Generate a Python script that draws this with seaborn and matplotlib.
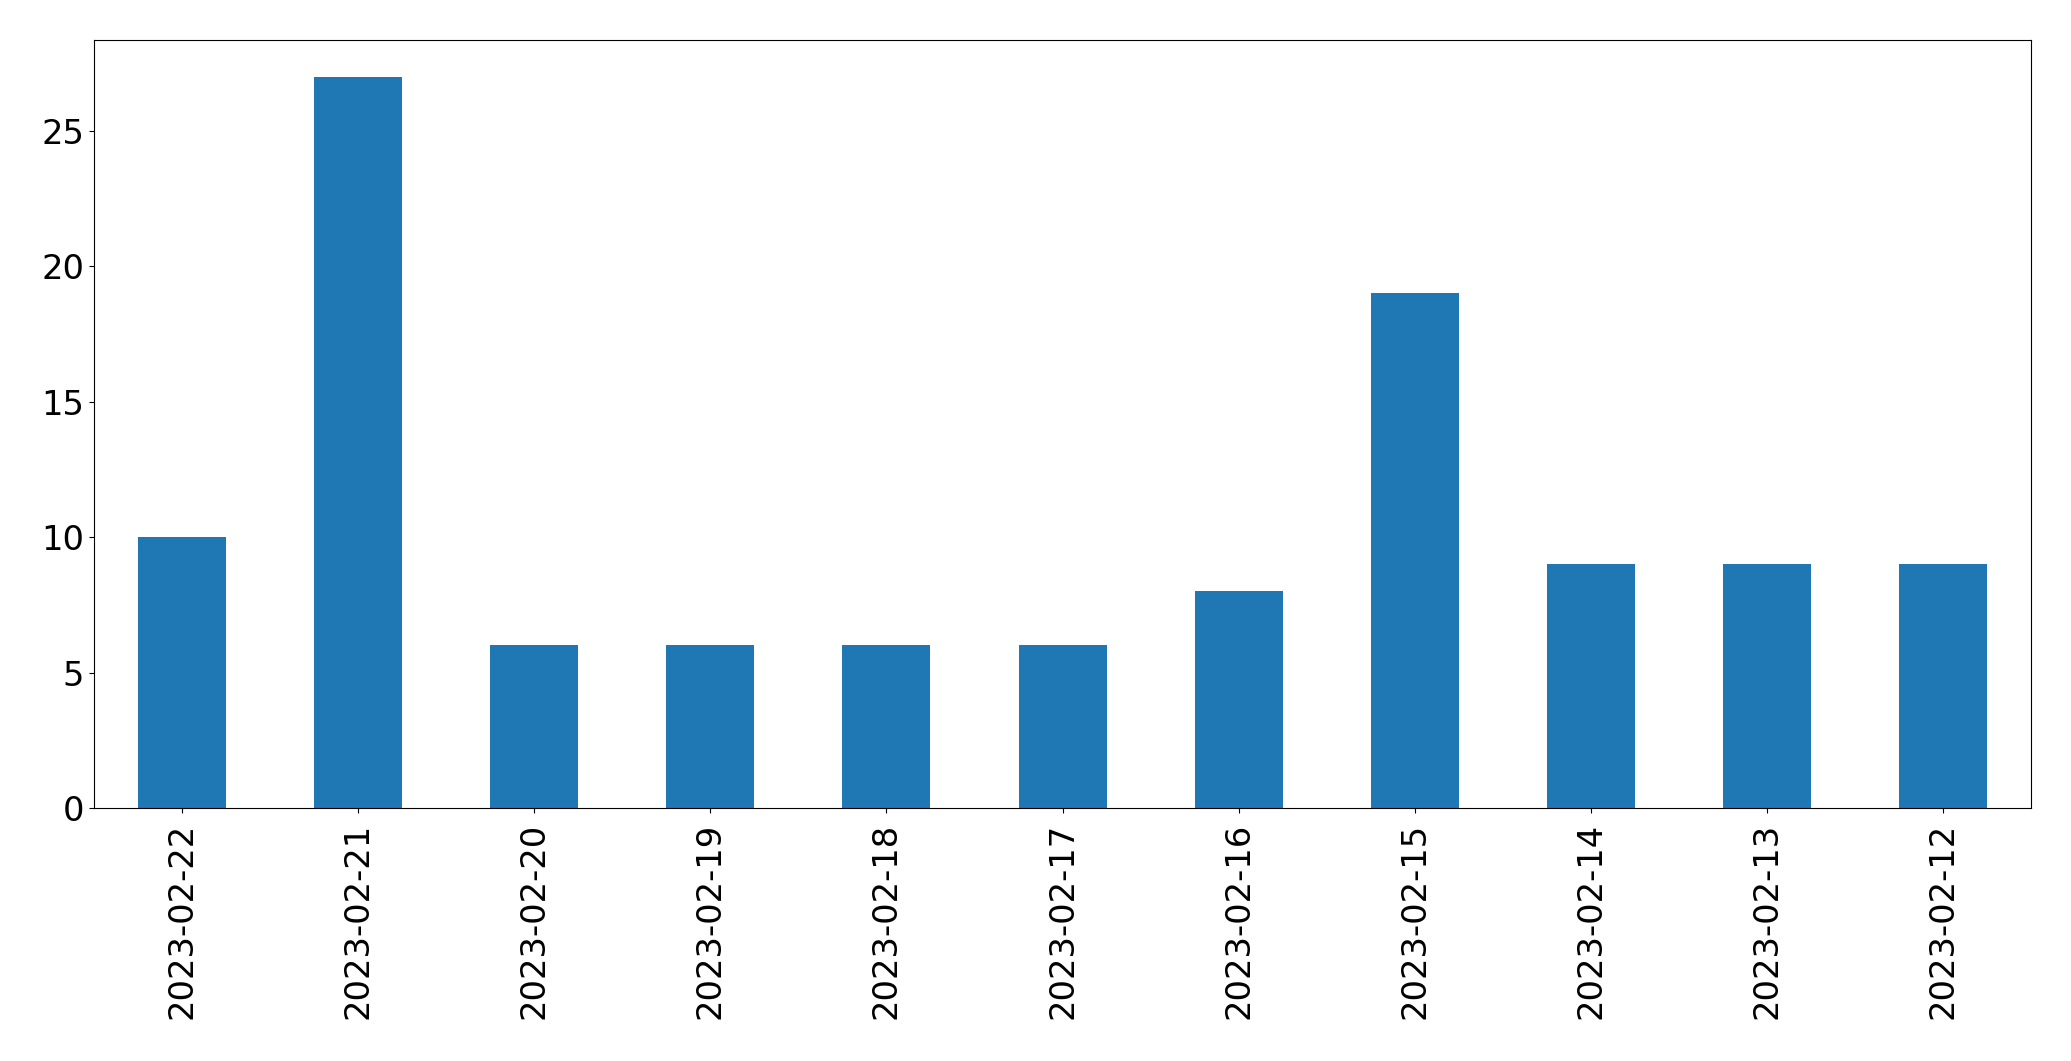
import matplotlib
matplotlib.use("Agg")
import matplotlib.pyplot as plt
import seaborn as sns
import pandas as pd

# conteggi giornalieri (ordine decrescente di data, come nel grafico)
date = ["2023-02-22", "2023-02-21", "2023-02-20", "2023-02-19", "2023-02-18",
        "2023-02-17", "2023-02-16", "2023-02-15", "2023-02-14", "2023-02-13",
        "2023-02-12"]
conteggi = [10, 27, 6, 6, 6, 6, 8, 19, 9, 9, 9]

df = pd.DataFrame({"data": date, "conteggio": conteggi})

plt.rcParams["font.family"] = ["DejaVu Sans"]

fig, ax = plt.subplots(figsize=(20.71, 10.61), dpi=100)
sns.barplot(data=df, x="data", y="conteggio", order=date,
            color="#1f77b4", saturation=1, width=0.5, linewidth=0, ax=ax)

ax.set_xlim(-0.5, len(date) - 0.5)
ax.set_ylim(0, max(conteggi) * 1.05)
ax.set_yticks([0, 5, 10, 15, 20, 25])
ax.set_xlabel("")
ax.set_ylabel("")
ax.tick_params(axis="x", labelrotation=90, labelsize=24.3, pad=7)
ax.tick_params(axis="y", labelsize=24.3)

fig.subplots_adjust(left=0.0454, right=0.9807, top=0.9623, bottom=0.2385)
fig.savefig("out.png", dpi=100)
